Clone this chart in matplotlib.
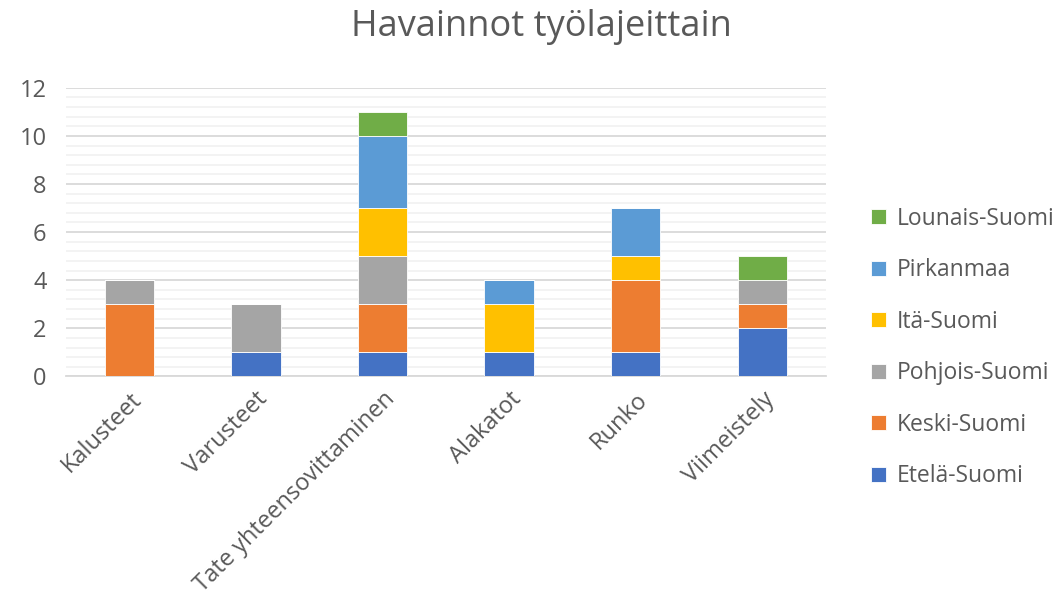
import matplotlib.pyplot as plt
import numpy as np
from matplotlib.ticker import MultipleLocator

plt.rcParams['font.family'] = ['Open Sans', 'DejaVu Sans']

categories = ['Kalusteet', 'Varusteet', 'Tate yhteensovittaminen', 'Alakatot', 'Runko', 'Viimeistely']
series = ['Etelä-Suomi', 'Keski-Suomi', 'Pohjois-Suomi', 'Itä-Suomi', 'Pirkanmaa', 'Lounais-Suomi']
etela = [0, 1, 1, 1, 1, 2]
keski = [3, 0, 2, 0, 3, 1]
pohjois = [1, 2, 2, 0, 0, 1]
ita = [0, 0, 2, 2, 1, 0]
pirkanmaa = [0, 0, 3, 1, 2, 0]
lounais = [0, 0, 1, 0, 0, 1]
colors = ['#4472c4', '#ed7d31', '#a5a5a5', '#ffc000', '#5b9bd5', '#70ad47']

txt = '#595959'
fig = plt.figure(figsize=(10.64, 6.1), dpi=100)
ax = fig.add_axes([0.062, 0.383, 0.714, 0.473])

x = np.arange(len(categories))
bottom = np.zeros(len(categories))
handles = []
for name, vals, c in zip(series, [etela, keski, pohjois, ita, pirkanmaa, lounais], colors):
    h = ax.bar(x, vals, 0.39, bottom=bottom, color=c, edgecolor='white', linewidth=0.6, zorder=3, label=name)
    handles.append(h)
    bottom += np.array(vals)

ax.set_xlim(-0.5, len(categories) - 0.5)
ax.set_ylim(0, 12)
ax.yaxis.set_major_locator(MultipleLocator(2))
ax.yaxis.set_minor_locator(MultipleLocator(0.4))
ax.grid(axis='y', which='major', color='#d9d9d9', linewidth=1.3, zorder=0)
ax.grid(axis='y', which='minor', color='#f2f2f2', linewidth=1.3, zorder=0)
for s in ['top', 'right', 'left']:
    ax.spines[s].set_visible(False)
ax.spines['bottom'].set_color('#d9d9d9')
ax.spines['bottom'].set_linewidth(1.3)
ax.tick_params(axis='both', which='both', length=0, colors=txt, labelsize=17)
ax.tick_params(axis='y', pad=14)
ax.set_xticks(x)
ax.set_xticklabels(categories, rotation=45, ha='right', rotation_mode='anchor')
ax.tick_params(axis='x', pad=8)

fig.suptitle('Havainnot työlajeittain', x=0.509, y=0.985, fontsize=26, color=txt)

leg = ax.legend(handles[::-1], series[::-1], loc='center left', bbox_to_anchor=(1.033, 0.10),
                frameon=False, fontsize=16.5, labelcolor=txt, handlelength=0.65, handleheight=0.65,
                labelspacing=1.2, handletextpad=0.45)

fig.savefig('out.png', dpi=100)
